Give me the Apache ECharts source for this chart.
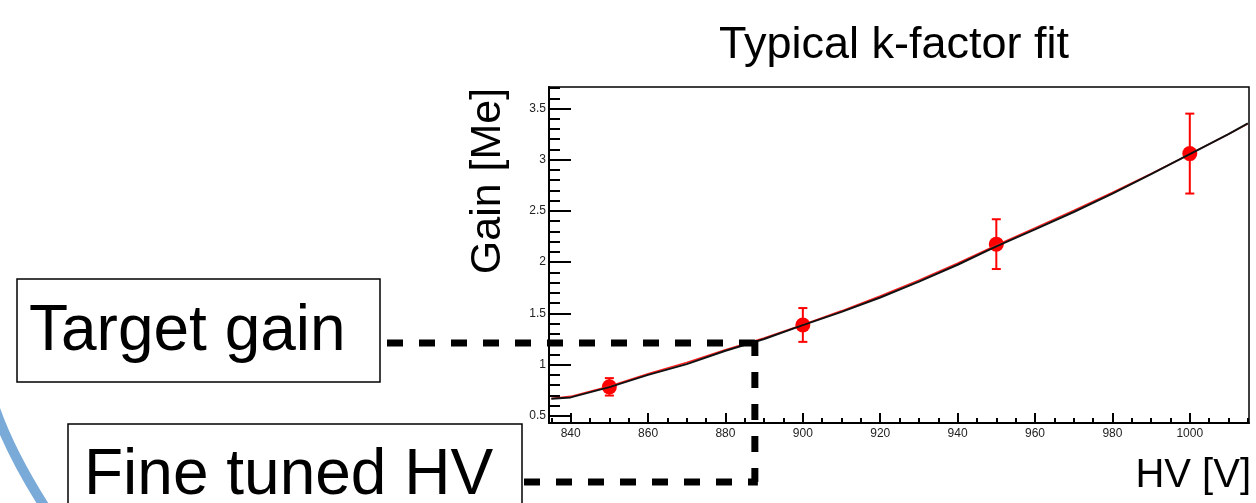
<!DOCTYPE html>
<html>
<head>
<meta charset="utf-8">
<script src="https://cdn.jsdelivr.net/npm/echarts@6/dist/echarts.min.js"></script>
<style>
  html, body { margin: 0; padding: 0; background: #fff; }
  #chart { width: 1256px; height: 503px; }
</style>
</head>
<body>
<div id="chart"></div>
<script>
// Measured gain at each HV setting, with error bars
const hvPoints = [850, 900, 950, 1000];
const gainPoints = [0.783, 1.387, 2.176, 3.06];
const gainErrors = [0.085, 0.165, 0.243, 0.39];

// k-factor fit curve (red) and the drawn gain curve (black)
const curveHV = [835, 840, 850, 860, 870, 880, 890, 900, 910, 920, 930, 940, 950, 960, 970, 980, 990, 1000, 1010, 1015];
const fitGain = [0.67, 0.69, 0.79, 0.91, 1.02, 1.145, 1.26, 1.39, 1.525, 1.67, 1.825, 1.99, 2.165, 2.335, 2.505, 2.68, 2.865, 3.055, 3.25, 3.35];
const curveGain = [0.666, 0.68, 0.78, 0.90, 1.005, 1.135, 1.25, 1.385, 1.515, 1.655, 1.81, 1.975, 2.155, 2.32, 2.49, 2.67, 2.86, 3.055, 3.25, 3.355];

// Working point
const targetGain = 1.21;
const tunedHV = 887.6;

// Axis ticks
const xMajorTicks = [840, 860, 880, 900, 920, 940, 960, 980, 1000];
const xMinorTicks = [835, 845, 850, 855, 865, 870, 875, 885, 890, 895, 905, 910, 915, 925, 930, 935, 945, 950, 955, 965, 970, 975, 985, 990, 995, 1005, 1010, 1015];
const yMajorTicks = [0.5, 1, 1.5, 2, 2.5, 3, 3.5];
const yMinorTicks = [0.6, 0.7, 0.8, 0.9, 1.1, 1.2, 1.3, 1.4, 1.6, 1.7, 1.8, 1.9, 2.1, 2.2, 2.3, 2.4, 2.6, 2.7, 2.8, 2.9, 3.1, 3.2, 3.3, 3.4, 3.6, 3.7];

const FONT = '"Liberation Sans", Arial, Helvetica, sans-serif';
const X_MIN = 834.4, X_MAX = 1015.3, Y_MIN = 0.43, Y_MAX = 3.71;

const chart = echarts.init(document.getElementById('chart'), null, { renderer: 'canvas' });

function pairs(xs, ys) { return xs.map((x, i) => [x, ys[i]]); }
const plain = v => String(v);

const baseX = { type: 'value', min: X_MIN, max: X_MAX, splitLine: { show: false }, position: 'bottom' };
const baseY = { type: 'value', min: Y_MIN, max: Y_MAX, splitLine: { show: false }, position: 'left' };

chart.setOption({
  animation: false,
  backgroundColor: '#fff',
  grid: { left: 549, top: 87, right: 7, bottom: 80, show: true, borderColor: '#000', borderWidth: 1.5, backgroundColor: 'transparent' },
  xAxis: [
    Object.assign({}, baseX, {
      axisLine: { show: true, lineStyle: { color: '#000', width: 2 } },
      axisTick: { show: true, inside: true, length: 10, lineStyle: { color: '#000', width: 2 }, customValues: xMajorTicks },
      axisLabel: { show: true, customValues: xMajorTicks, formatter: plain, color: '#222', fontSize: 12, fontFamily: FONT, margin: 5 }
    }),
    Object.assign({}, baseX, {
      axisLine: { show: false },
      axisTick: { show: true, inside: true, length: 5, lineStyle: { color: '#000', width: 2 }, customValues: xMinorTicks },
      axisLabel: { show: false }
    })
  ],
  yAxis: [
    Object.assign({}, baseY, {
      axisLine: { show: true, lineStyle: { color: '#000', width: 2 } },
      axisTick: { show: true, inside: true, length: 22, lineStyle: { color: '#000', width: 2 }, customValues: yMajorTicks },
      axisLabel: { show: true, customValues: yMajorTicks, formatter: plain, color: '#222', fontSize: 12, fontFamily: FONT, margin: 3 }
    }),
    Object.assign({}, baseY, {
      axisLine: { show: false },
      axisTick: { show: true, inside: true, length: 11, lineStyle: { color: '#000', width: 2 }, customValues: yMinorTicks },
      axisLabel: { show: false }
    })
  ],
  series: [
    {
      name: 'errors',
      type: 'custom',
      xAxisIndex: 0, yAxisIndex: 0,
      z: 2,
      data: hvPoints.map((x, i) => [x, gainPoints[i] - gainErrors[i], gainPoints[i] + gainErrors[i]]),
      renderItem: function (params, api) {
        const lo = api.coord([api.value(0), api.value(1)]);
        const hi = api.coord([api.value(0), api.value(2)]);
        const cap = 4.5;
        const st = { stroke: '#ff0000', lineWidth: 2 };
        return {
          type: 'group',
          children: [
            { type: 'line', shape: { x1: lo[0], y1: lo[1], x2: hi[0], y2: hi[1] }, style: st },
            { type: 'line', shape: { x1: lo[0] - cap, y1: lo[1], x2: lo[0] + cap, y2: lo[1] }, style: st },
            { type: 'line', shape: { x1: hi[0] - cap, y1: hi[1], x2: hi[0] + cap, y2: hi[1] }, style: st }
          ]
        };
      }
    },
    {
      name: 'gain',
      type: 'scatter',
      xAxisIndex: 0, yAxisIndex: 0,
      z: 3,
      symbol: 'circle',
      symbolSize: 15,
      itemStyle: { color: '#ff0000', opacity: 1 },
      data: pairs(hvPoints, gainPoints)
    },
    {
      name: 'fit',
      type: 'line',
      xAxisIndex: 0, yAxisIndex: 0,
      z: 4,
      showSymbol: false,
      lineStyle: { color: '#ff2020', width: 1.5 },
      data: pairs(curveHV, fitGain)
    },
    {
      name: 'curve',
      type: 'line',
      xAxisIndex: 0, yAxisIndex: 0,
      z: 5,
      showSymbol: false,
      lineStyle: { color: '#111', width: 2 },
      data: pairs(curveHV, curveGain)
    }
  ]
});

// Working-point guides, labels and boxes
const wp = chart.convertToPixel({ xAxisIndex: 0, yAxisIndex: 0 }, [tunedHV, targetGain]);
const dash = { stroke: '#000', lineWidth: 7, lineDash: [16, 16] };
const bottomGuideY = 482;

function txt(text, x, y, size, align, rotation) {
  return {
    type: 'text', x: x, y: y, rotation: rotation || 0, z: 100,
    style: {
      text: text, font: size + 'px ' + FONT, fill: '#000',
      textAlign: align, textVerticalAlign: 'middle', align: align, verticalAlign: 'middle'
    }
  };
}

chart.setOption({
  graphic: [
    // decorative arc in the lower-left corner
    { type: 'bezierCurve', z: 50, shape: { x1: -8, y1: 400, cpx1: 8, cpy1: 450, x2: 48, y2: 512 }, style: { stroke: '#79aad8', lineWidth: 10, fill: null } },
    // guide lines
    { type: 'line', z: 90, shape: { x1: 387, y1: wp[1], x2: wp[0], y2: wp[1] }, style: dash },
    { type: 'line', z: 90, shape: { x1: wp[0], y1: wp[1] - 3, x2: wp[0], y2: bottomGuideY }, style: dash },
    { type: 'line', z: 90, shape: { x1: 524, y1: bottomGuideY, x2: wp[0] + 3, y2: bottomGuideY }, style: dash },
    // annotation boxes
    { type: 'rect', z: 95, shape: { x: 17, y: 279, width: 363, height: 103 }, style: { fill: '#fff', stroke: '#000', lineWidth: 1.5 } },
    { type: 'rect', z: 95, shape: { x: 68, y: 424, width: 454, height: 100 }, style: { fill: '#fff', stroke: '#000', lineWidth: 1.5 } },
    txt('Target gain', 29, 332, 64, 'left'),
    txt('Fine tuned HV', 84, 476, 64, 'left'),
    // titles
    txt('Typical k-factor fit', 894, 46, 45, 'center'),
    txt('Gain [Me]', 488, 181, 43, 'center', Math.PI / 2),
    txt('HV [V]', 1251, 476, 40, 'right')
  ]
});
</script>
</body>
</html>
